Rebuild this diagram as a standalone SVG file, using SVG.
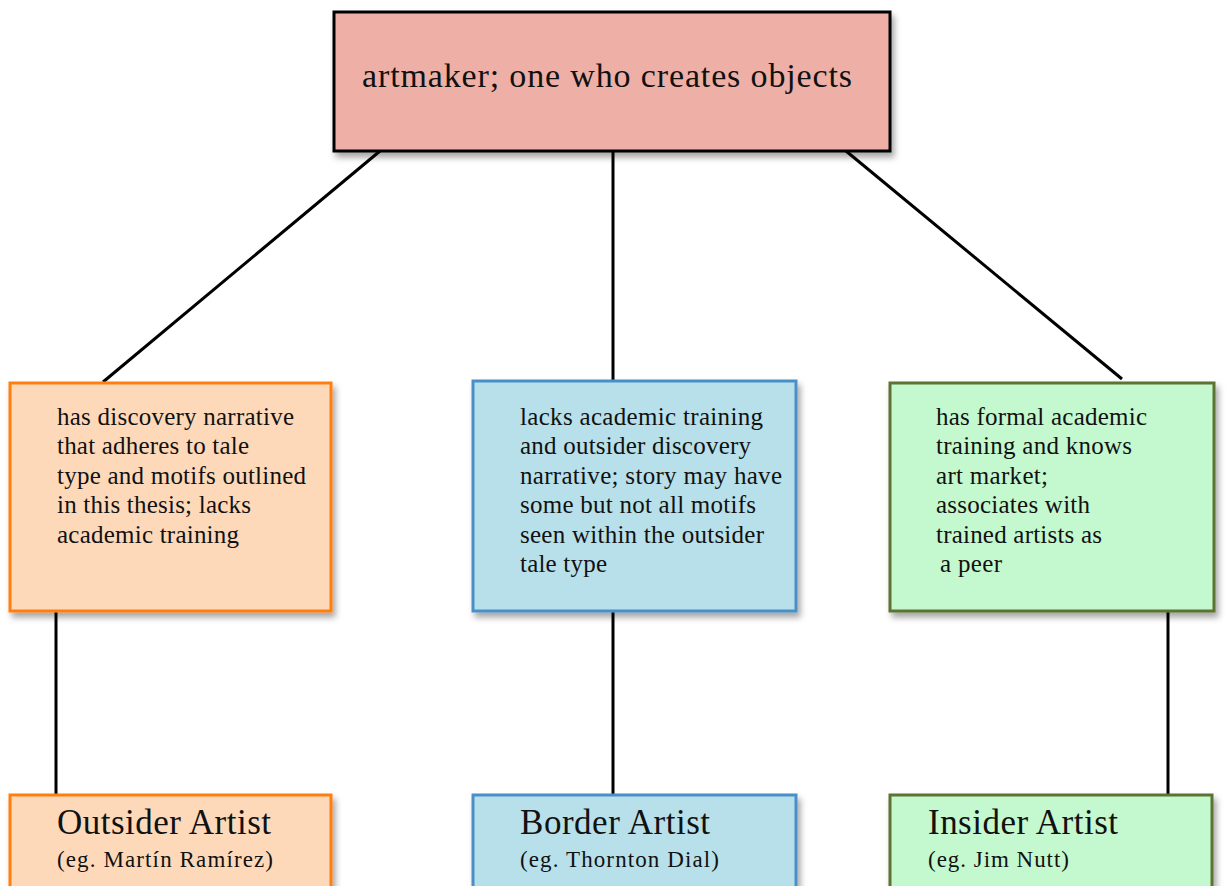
<svg xmlns="http://www.w3.org/2000/svg" width="1225" height="886" viewBox="0 0 1225 886">
<style>
text{font-family:"Liberation Serif","Times New Roman",serif;fill:#111;}
.desc{font-size:25px;}
.title{font-size:35px;}
.sub{font-size:23px;}
.box{stroke-width:3;filter:url(#sh);}
.conn line{stroke:#000;stroke-width:3;}
</style>
<defs>
<filter id="sh" x="-10%" y="-10%" width="125%" height="130%">
<feDropShadow dx="3" dy="5" stdDeviation="3" flood-color="#000" flood-opacity="0.35"/>
</filter>
</defs>
<rect width="1225" height="886" fill="#fff"/>
<g class="conn" id="connectors">
<line x1="380" y1="151" x2="103" y2="382"/>
<line x1="613" y1="151" x2="613" y2="381"/>
<line x1="846" y1="151" x2="1122" y2="379"/>
<line x1="56" y1="611" x2="56" y2="794"/>
<line x1="613" y1="611" x2="613" y2="794"/>
<line x1="1168" y1="611" x2="1168" y2="794"/>
</g>
<g id="root">
<rect class="box" x="334" y="12" width="556" height="139" fill="#EEB0A6" stroke="#000"/>
<text x="362" y="87" style="font-size:34px" textLength="490" lengthAdjust="spacing">artmaker; one who creates objects</text>
</g>
<g id="outsider-desc">
<rect class="box" x="10" y="383" width="321" height="228" fill="#FDD9BA" stroke="#FF7F0F"/>
<text class="desc" x="57" y="425" textLength="237" lengthAdjust="spacing">has discovery narrative</text>
<text class="desc" x="57" y="454" textLength="192" lengthAdjust="spacing">that adheres to tale</text>
<text class="desc" x="57" y="484" textLength="249" lengthAdjust="spacing">type and motifs outlined</text>
<text class="desc" x="57" y="513" textLength="194" lengthAdjust="spacing">in this thesis; lacks</text>
<text class="desc" x="57" y="543" textLength="182" lengthAdjust="spacing">academic training</text>
</g>
<g id="border-desc">
<rect class="box" x="473" y="381" width="323" height="230" fill="#B8E0EA" stroke="#4A8FC9"/>
<text class="desc" x="520" y="425" textLength="243" lengthAdjust="spacing">lacks academic training</text>
<text class="desc" x="520" y="454" textLength="231" lengthAdjust="spacing">and outsider discovery</text>
<text class="desc" x="520" y="484" textLength="262" lengthAdjust="spacing">narrative; story may have</text>
<text class="desc" x="520" y="513" textLength="236" lengthAdjust="spacing">some but not all motifs</text>
<text class="desc" x="520" y="543" textLength="244" lengthAdjust="spacing">seen within the outsider</text>
<text class="desc" x="520" y="572" textLength="87" lengthAdjust="spacing">tale type</text>
</g>
<g id="insider-desc">
<rect class="box" x="890" y="383" width="324" height="228" fill="#C4F8CF" stroke="#5B7332"/>
<text class="desc" x="936" y="425" textLength="211" lengthAdjust="spacing">has formal academic</text>
<text class="desc" x="936" y="454" textLength="196" lengthAdjust="spacing">training and knows</text>
<text class="desc" x="936" y="484" textLength="112" lengthAdjust="spacing">art market;</text>
<text class="desc" x="936" y="513" textLength="154" lengthAdjust="spacing">associates with</text>
<text class="desc" x="936" y="543" textLength="166" lengthAdjust="spacing">trained artists as</text>
<text class="desc" x="940" y="572" textLength="62" lengthAdjust="spacing">a peer</text>
</g>
<g id="outsider">
<rect class="box" x="10" y="795" width="321" height="110" fill="#FDD9BA" stroke="#FF7F0F"/>
<text class="title" x="57" y="834" textLength="214" lengthAdjust="spacing">Outsider Artist</text>
<text class="sub" x="57" y="867" textLength="216" lengthAdjust="spacing">(eg. Martín Ramírez)</text>
</g>
<g id="border">
<rect class="box" x="473" y="795" width="323" height="110" fill="#B8E0EA" stroke="#4A8FC9"/>
<text class="title" x="520" y="834" textLength="190" lengthAdjust="spacing">Border Artist</text>
<text class="sub" x="520" y="867" textLength="199" lengthAdjust="spacing">(eg. Thornton Dial)</text>
</g>
<g id="insider">
<rect class="box" x="890" y="795" width="322" height="110" fill="#C4F8CF" stroke="#5B7332"/>
<text class="title" x="928" y="834" textLength="190" lengthAdjust="spacing">Insider Artist</text>
<text class="sub" x="928" y="867" textLength="141" lengthAdjust="spacing">(eg. Jim Nutt)</text>
</g>
</svg>
